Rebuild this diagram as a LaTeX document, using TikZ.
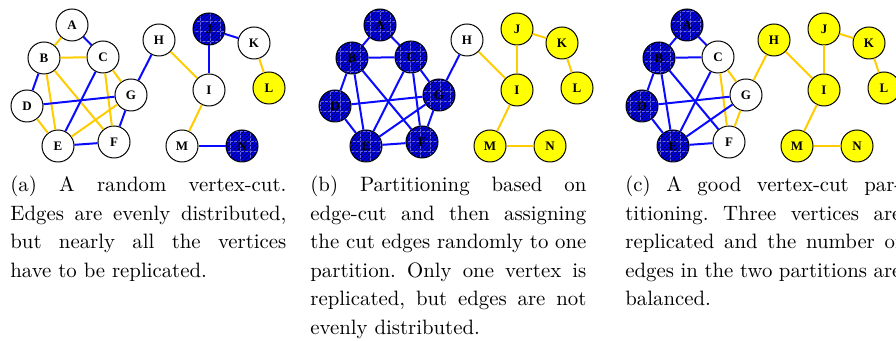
\documentclass[tikz,border=0pt]{standalone}
\usepackage{fontspec}
\newfontfamily\vtxfont{Liberation Serif}
\usetikzlibrary{patterns.meta}

\definecolor{cutblue}{RGB}{0,0,235}
\definecolor{edgeblue}{RGB}{10,10,255}
\definecolor{edgeyellow}{RGB}{255,204,0}
\definecolor{partyellow}{RGB}{255,255,0}

\tikzset{
  vtx/.style={circle, draw=black, line width=0.5pt, minimum size=16pt, inner sep=0pt,
    font=\vtxfont\fontsize{6.5}{7}\selectfont\bfseries},
  wht/.style={vtx, fill=white},
  ylw/.style={vtx, fill=partyellow},
  blu/.style={vtx, fill=cutblue,
    path picture={
      \fill[pattern={Hatch[angle=0,distance=5pt,line width=0.12pt]}, pattern color=blue!60!white]
        (path picture bounding box.south west) rectangle (path picture bounding box.north east);
      \fill[pattern={Lines[angle=45,distance=1.5pt,line width=0.35pt]}, pattern color=blue!25!black]
        (path picture bounding box.south west) rectangle (path picture bounding box.north east);}},
  ye/.style={edgeyellow, line width=1pt},
  be/.style={edgeblue, line width=1pt},
  captext/.style={anchor=north west, inner sep=0pt, text width=138pt, align=justify,
    font=\fontsize{10.4}{14.25}\selectfont\frenchspacing}
}

\begin{document}
\begin{tikzpicture}[x=0.5pt, y=-0.5pt]
  \useasboundingbox (0,0) rectangle (896,341);
  % (a) random vertex-cut
  \foreach \n/\x/\y/\s in {A/72/25/wht, B/44/58/wht, C/103/57/wht, D/27/106/wht,
      E/58/146/wht, F/114/142/wht, G/131/95/wht, H/159/40/wht, I/209/90/wht,
      J/209/29/blu, K/254/43/wht, L/269/88/ylw, M/182/146/wht, N/242/146/blu}
    \node[\s] (a\n) at (\x,\y) {\n};
  \foreach \u/\v/\s in {A/B/ye, A/C/be, B/C/ye, B/D/be, B/E/ye, B/F/ye, C/E/be,
      C/F/ye, C/G/ye, D/G/be, D/E/ye, E/G/ye, E/F/be, F/G/be, G/H/be, H/I/ye,
      I/J/be, J/K/be, K/L/ye, I/M/ye, M/N/be}
    \draw[\s] (a\u) -- (a\v);
  % (b) edge-cut
  \begin{scope}[shift={(308,0)}]
  \foreach \n/\x/\y/\s in {A/72/25/blu, B/44/58/blu, C/103/57/blu, D/27/106/blu,
      E/58/146/blu, F/114/142/blu, G/131/95/blu, H/159/40/wht, I/209/90/ylw,
      J/209/29/ylw, K/254/43/ylw, L/269/88/ylw, M/182/146/ylw, N/242/146/ylw}
    \node[\s] (b\n) at (\x,\y) {\n};
  \foreach \u/\v/\s in {A/B/be, A/C/be, B/C/be, B/D/be, B/E/be, B/F/be, C/E/be,
      C/F/be, C/G/be, D/G/be, D/E/be, E/G/be, E/F/be, F/G/be, G/H/be, H/I/ye,
      I/J/ye, J/K/ye, K/L/ye, I/M/ye, M/N/ye}
    \draw[\s] (b\u) -- (b\v);
  \end{scope}
  % (c) good vertex-cut
  \begin{scope}[shift={(615,0)}]
  \foreach \n/\x/\y/\s in {A/72/25/blu, B/44/58/blu, C/103/57/wht, D/27/106/blu,
      E/58/146/blu, F/114/142/wht, G/131/95/wht, H/159/40/ylw, I/209/90/ylw,
      J/209/29/ylw, K/254/43/ylw, L/269/88/ylw, M/182/146/ylw, N/242/146/ylw}
    \node[\s] (c\n) at (\x,\y) {\n};
  \foreach \u/\v/\s in {A/B/be, A/C/be, B/C/be, B/D/be, B/E/be, B/F/be, C/E/be,
      C/F/ye, C/G/ye, D/G/be, D/E/be, E/G/be, E/F/be, F/G/ye, G/H/ye, H/I/ye,
      I/J/ye, J/K/ye, K/L/ye, I/M/ye, M/N/ye}
    \draw[\s] (c\u) -- (c\v);
  \end{scope}
  % captions
  \node[captext] (capa) at (10,176) {(a) A random vertex-cut.\linebreak
    Edges are evenly distributed,\linebreak but nearly all the vertices\linebreak
    have to be replicated.};
  \node[captext] (capb) at (310,176) {(b) Partitioning based on\linebreak
    edge-cut and then assigning\linebreak the cut edges randomly to one\linebreak
    partition. Only one vertex is\linebreak replicated, but edges are not\linebreak
    evenly distributed.};
  \node[captext] (capc) at (625,176) {(c) A good vertex-cut par-\linebreak
    titioning. Three vertices are\linebreak replicated and the number of\linebreak
    edges in the two partitions are\linebreak balanced.};
\end{tikzpicture}
\end{document}
